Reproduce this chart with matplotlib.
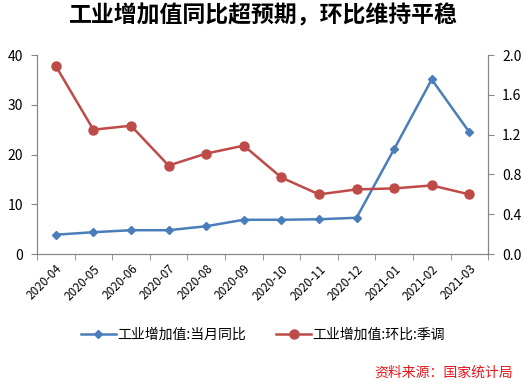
import numpy as np
import matplotlib.pyplot as plt
from matplotlib.ticker import FixedLocator, FormatStrFormatter

plt.rcParams['font.family'] = ['Noto Sans CJK SC', 'DejaVu Sans']

meses = ['2020-04', '2020-05', '2020-06', '2020-07', '2020-08', '2020-09',
         '2020-10', '2020-11', '2020-12', '2021-01', '2021-02', '2021-03']
yoy = [3.9, 4.4, 4.8, 4.8, 5.6, 6.9, 6.9, 7.0, 7.3, 21.1, 35.1, 24.5]
mom = [1.89, 1.25, 1.29, 0.89, 1.01, 1.09, 0.77, 0.60, 0.65, 0.66, 0.69, 0.60]

azul = '#4A7EBB'
vermelho = '#BE4B48'
cinza = '#868686'

fig = plt.figure(figsize=(5.26, 3.85), dpi=100)
ax = fig.add_axes([0.0703, 0.340, 0.8577, 0.517])
ax2 = ax.twinx()

x = np.arange(len(meses))
l1, = ax.plot(x, yoy, color=azul, lw=1.8, marker='D', ms=4.5,
              label='工业增加值:当月同比', zorder=3)
l2, = ax2.plot(x, mom, color=vermelho, lw=1.8, marker='o', ms=6.5,
               label='工业增加值:环比:季调', zorder=3)

ax.set_xlim(-0.5, len(meses) - 0.5)
ax.set_ylim(0, 40)
ax2.set_ylim(0, 2.0)
ax.set_yticks([0, 10, 20, 30, 40])
ax2.set_yticks([0, 0.4, 0.8, 1.2, 1.6, 2.0])
ax2.yaxis.set_major_formatter(FormatStrFormatter('%.1f'))

ax.set_xticks(x)
ax.set_xticklabels(meses, rotation=45, ha='right', rotation_mode='anchor', fontsize=8.5)
ax.xaxis.set_minor_locator(FixedLocator(np.arange(-0.5, len(meses), 1)))
ax.tick_params(axis='x', which='major', length=0, pad=6)
ax.tick_params(axis='x', which='minor', length=4, color=cinza, direction='out')

for a in (ax, ax2):
    a.spines['top'].set_visible(False)
    for lado in ['left', 'right', 'bottom']:
        a.spines[lado].set_color(cinza)
    a.tick_params(axis='y', length=4, color=cinza, labelsize=10, pad=6)

fig.text(0.5, 0.96, '工业增加值同比超预期，环比维持平稳', ha='center', va='center',
         fontsize=16.5, fontweight='bold')

fig.legend(handles=[l1, l2], loc='center', bbox_to_anchor=(0.5, 0.130), ncol=2,
           frameon=False, fontsize=10, handlelength=2.5, columnspacing=2.2, handletextpad=0.1)

fig.text(0.975, 0.031, '资料来源：国家统计局', ha='right', va='center',
         fontsize=10, color='#E8161B', style='italic')

plt.savefig('out.png', dpi=100)
